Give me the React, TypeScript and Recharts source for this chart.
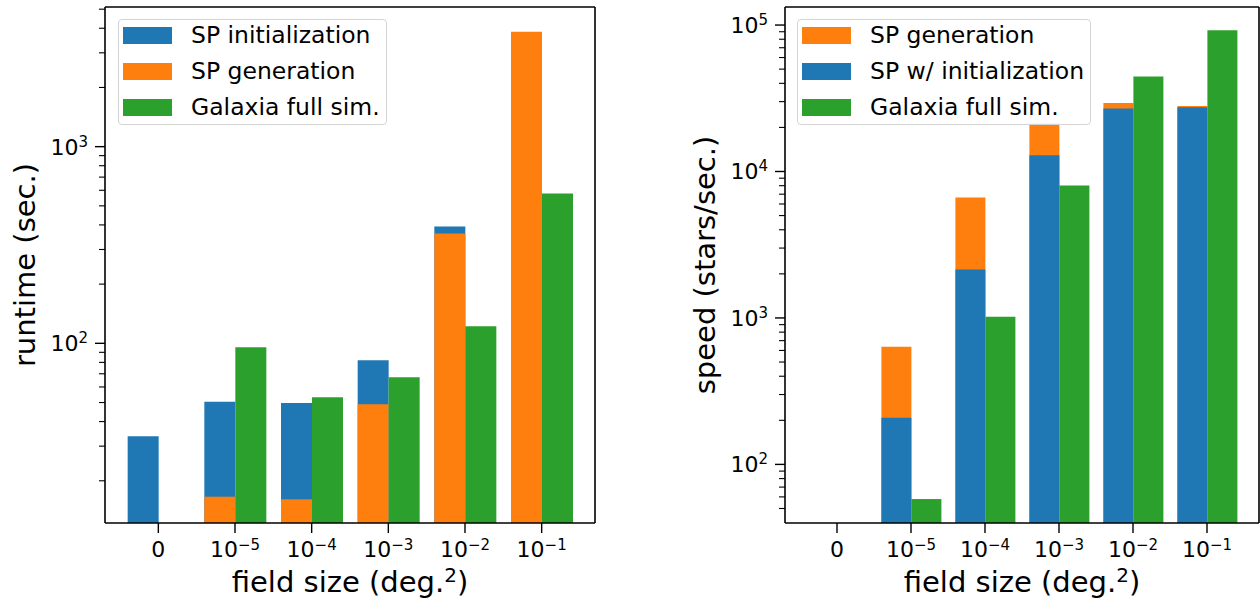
import { BarChart, Bar, XAxis, YAxis, Legend, Label } from "recharts";

const categories = ["0", "1e-5", "1e-4", "1e-3", "1e-2", "1e-1"];
const tickExponents = ["", "−5", "−4", "−3", "−2", "−1"];

// left panel: runtime (sec.)
const runtimeInit = [33.7, 50.4, 49.7, 82, 393, 3830];
const runtimeGen = [null, 16.6, 16.1, 49, 362, 3836];
const runtimeGalaxia = [null, 95.6, 53.2, 67.2, 122, 577];

// right panel: speed (stars/sec.)
const speedGen = [null, 637, 6650, 21500, 29400, 28000];
const speedInit = [null, 208, 2140, 12900, 26900, 27500];
const speedGalaxia = [null, 58, 1020, 8020, 44500, 92000];

const runtimeTicks = [
  20, 30, 40, 50, 60, 70, 80, 90, 100, 200, 300, 400, 500, 600, 700, 800, 900,
  1000, 2000, 3000, 4000, 5000,
];
const speedTicks = [
  50, 60, 70, 80, 90, 100, 200, 300, 400, 500, 600, 700, 800, 900, 1000, 2000,
  3000, 4000, 5000, 6000, 7000, 8000, 9000, 10000, 20000, 30000, 40000, 50000,
  60000, 70000, 80000, 90000, 100000,
];

const BLUE = "#1f77b4";
const ORANGE = "#ff7f0e";
const GREEN = "#2ca02c";
const FONT = "DejaVu Sans";
const AXIS = { stroke: "#000", strokeWidth: 1.6 };

function LogTick(props: any) {
  const { x, y, payload } = props;
  const lg = Math.log10(payload.value);
  const exp = Math.round(lg);
  const major = Math.abs(lg - exp) < 1e-6;
  return (
    <g>
      <line x1={x} x2={x - (major ? 10 : 6)} y1={y} y2={y} stroke="#000" strokeWidth={major ? 1.4 : 1.1} />
      {major && (
        <text x={x - 17} y={y + 8} textAnchor="end" fontSize={22} fontFamily={FONT} fill="#000">
          10
          <tspan dy={-8} fontSize={15}>
            {exp}
          </tspan>
        </text>
      )}
    </g>
  );
}

function CatTick(props: any) {
  const { x, y, payload } = props;
  const i = categories.indexOf(payload.value);
  const exp = tickExponents[i];
  return (
    <g>
      <line x1={x} x2={x} y1={y} y2={y + 10} stroke="#000" strokeWidth={1.4} />
      <text x={x} y={y + 34} textAnchor="middle" fontSize={22} fontFamily={FONT} fill="#000">
        {exp ? "10" : "0"}
        {exp && (
          <tspan dy={-7} fontSize={15}>
            {exp}
          </tspan>
        )}
      </text>
    </g>
  );
}

function LegendBox({ items }: { items: { name: string; color: string }[] }) {
  return (
    <div
      style={{
        border: "1px solid #d4d4d4",
        borderRadius: 4,
        background: "rgba(255,255,255,0.9)",
        padding: "0 6px 2px 4px",
        fontFamily: FONT,
        fontSize: 23.5,
        color: "#000",
      }}
    >
      {items.map((it, i) => (
        <div key={it.name} style={{ display: "flex", alignItems: "center", height: 30, marginTop: i ? 6 : 0 }}>
          <div style={{ width: 49, height: 17, background: it.color, marginRight: 19 }} />
          <span style={{ whiteSpace: "nowrap" }}>{it.name}</span>
        </div>
      ))}
    </div>
  );
}

type PanelProps = {
  width: number;
  yAxisWidth: number;
  marginRight: number;
  back: (number | null)[];
  backColor: string;
  front: (number | null)[];
  frontColor: string;
  galaxia: (number | null)[];
  domain: [number, number];
  ticks: number[];
  ylabel: string;
  ylabelX: number;
  legendItems: { name: string; color: string }[];
  legendLeft: number;
};

function Panel(p: PanelProps) {
  const rows = categories.map((c, i) => ({
    cat: c,
    back: p.back[i],
    front: p.front[i],
    galaxia: p.galaxia[i],
    pad: null,
  }));
  const padding = { left: 15, right: 15 };
  return (
    <BarChart
      width={p.width}
      height={601}
      data={rows}
      margin={{ top: 6, right: p.marginRight, bottom: 0, left: 0 }}
      barCategoryGap="10%"
      barGap={0}
    >
      <XAxis
        xAxisId="main"
        dataKey="cat"
        height={78}
        padding={padding}
        interval={0}
        tickSize={0}
        tickMargin={0}
        tickLine={false}
        tick={<CatTick />}
        axisLine={AXIS}
      >
        <Label
          content={(lp: any) => {
            const vb = lp.viewBox;
            return (
              <text x={vb.x + vb.width / 2} y={vb.y + 69} textAnchor="middle" fontSize={29} fontFamily={FONT} fill="#000">
                field size (deg.
                <tspan dy={-10} fontSize={20}>
                  2
                </tspan>
                <tspan dy={10}>)</tspan>
              </text>
            );
          }}
        />
      </XAxis>
      <XAxis xAxisId="back" dataKey="cat" hide height={0} padding={padding} />
      {/* top and right axes only draw the frame */}
      <XAxis
        xAxisId="top"
        dataKey="cat"
        orientation="top"
        height={1}
        tick={false}
        tickLine={false}
        axisLine={AXIS}
      />
      <YAxis
        yAxisId="val"
        type="number"
        scale="log"
        domain={p.domain}
        allowDataOverflow
        ticks={p.ticks}
        interval={0}
        width={p.yAxisWidth}
        tickSize={0}
        tickMargin={0}
        tickLine={false}
        tick={<LogTick />}
        axisLine={AXIS}
      >
        <Label
          content={(lp: any) => {
            const vb = lp.viewBox;
            const cy = vb.y + vb.height / 2;
            return (
              <text
                x={p.ylabelX}
                y={cy}
                transform={`rotate(-90, ${p.ylabelX}, ${cy})`}
                textAnchor="middle"
                fontSize={29}
                fontFamily={FONT}
                fill="#000"
              >
                {p.ylabel}
              </text>
            );
          }}
        />
      </YAxis>
      <YAxis
        yAxisId="frame"
        orientation="right"
        type="number"
        domain={[0, 1]}
        allowDataOverflow
        width={1}
        tick={false}
        tickLine={false}
        axisLine={AXIS}
      />
      <Bar xAxisId="back" yAxisId="val" dataKey="back" fill={p.backColor} isAnimationActive={false} />
      <Bar xAxisId="back" yAxisId="val" dataKey="pad" fill="none" isAnimationActive={false} />
      <Bar xAxisId="main" yAxisId="val" dataKey="front" fill={p.frontColor} isAnimationActive={false} />
      <Bar xAxisId="main" yAxisId="val" dataKey="galaxia" fill={GREEN} isAnimationActive={false} />
      <Bar xAxisId="top" yAxisId="frame" dataKey="pad" fill="none" isAnimationActive={false} />
      <Legend
        layout="vertical"
        align="center"
        verticalAlign="middle"
        wrapperStyle={{ left: p.legendLeft, top: 19, width: "auto", height: "auto" }}
        content={() => <LegendBox items={p.legendItems} />}
      />
    </BarChart>
  );
}

export default function App() {
  return (
    <div style={{ position: "absolute", left: 0, top: 0, width: 1260, height: 601, background: "#fff" }}>
      <div style={{ position: "absolute", left: 0, top: 0 }}>
        <Panel
          width={600}
          yAxisWidth={105}
          marginRight={4}
          back={runtimeInit}
          backColor={BLUE}
          front={runtimeGen}
          frontColor={ORANGE}
          galaxia={runtimeGalaxia}
          domain={[12.2, 5130]}
          ticks={runtimeTicks}
          ylabel="runtime (sec.)"
          ylabelX={35}
          legendItems={[
            { name: "SP initialization", color: BLUE },
            { name: "SP generation", color: ORANGE },
            { name: "Galaxia full sim.", color: GREEN },
          ]}
          legendLeft={118}
        />
      </div>
      <div style={{ position: "absolute", left: 640, top: 0 }}>
        <Panel
          width={620}
          yAxisWidth={145}
          marginRight={0}
          back={speedGen}
          backColor={ORANGE}
          front={speedInit}
          frontColor={BLUE}
          galaxia={speedGalaxia}
          domain={[39.8, 132800]}
          ticks={speedTicks}
          ylabel="speed (stars/sec.)"
          ylabelX={75}
          legendItems={[
            { name: "SP generation", color: ORANGE },
            { name: "SP w/ initialization", color: BLUE },
            { name: "Galaxia full sim.", color: GREEN },
          ]}
          legendLeft={157}
        />
      </div>
    </div>
  );
}
